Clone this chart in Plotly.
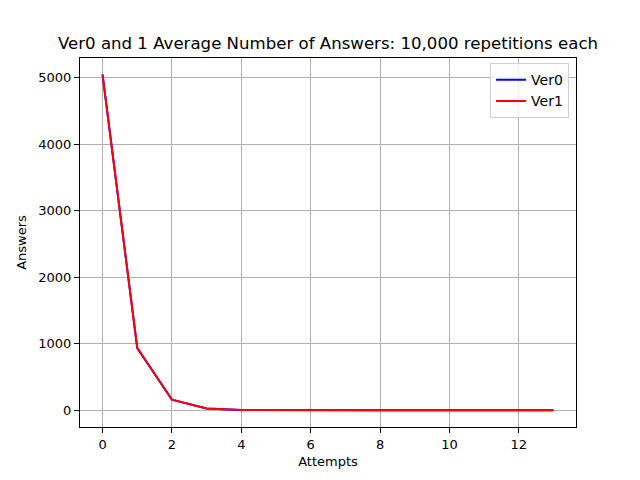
import plotly.graph_objects as go

# average number of answers per attempt index
attempts = list(range(14))
ver0 = [5050, 935, 160, 26, 4, 0.7, 0.1, 0, 0, 0, 0, 0, 0, 0]
ver1 = [5045, 940, 158, 27, 4, 0.6, 0.1, 0, 0, 0, 0, 0, 0, 0]

fig = go.Figure()
fig.add_trace(go.Scatter(x=attempts, y=ver0, mode="lines", name="Ver0",
                         line=dict(color="blue", width=2)))
fig.add_trace(go.Scatter(x=attempts, y=ver1, mode="lines", name="Ver1",
                         line=dict(color="red", width=2)))

axis_style = dict(showline=True, linecolor="black", linewidth=1, mirror=True,
                  ticks="outside", ticklen=5, tickcolor="black",
                  showgrid=True, gridcolor="#b0b0b0", gridwidth=1,
                  zeroline=False, tickfont=dict(size=13, color="black"))

# the page has an 8px body margin, so margins are shifted by that
fig.update_layout(
    width=640, height=480,
    paper_bgcolor="white", plot_bgcolor="white",
    font=dict(family="DejaVu Sans", color="black"),
    margin=dict(l=72, r=72, t=50, b=61),
    title=dict(text="Ver0 and 1 Average Number of Answers: 10,000 repetitions each",
               x=0.5, xanchor="center", xref="paper", y=1 - 35 / 480, yanchor="middle",
               font=dict(size=16.6)),
    xaxis=dict(axis_style, range=[-0.65, 13.65], tickvals=[0, 2, 4, 6, 8, 10, 12],
               title=dict(text="Attempts", font=dict(size=13), standoff=6)),
    yaxis=dict(axis_style, range=[-252, 5297], tickvals=[0, 1000, 2000, 3000, 4000, 5000],
               title=dict(text="Answers", font=dict(size=13), standoff=8)),
    legend=dict(x=0.986, y=0.986, xanchor="right", yanchor="top",
                bordercolor="#d0d0d0", borderwidth=1, bgcolor="rgba(255,255,255,0.8)",
                font=dict(size=14)),
    showlegend=True,
)

fig.write_html("out.html")
